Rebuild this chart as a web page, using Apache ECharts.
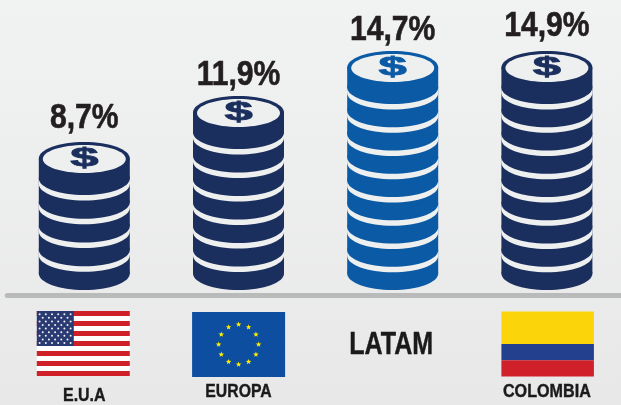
<!DOCTYPE html>
<html><head><meta charset="utf-8">
<style>html,body{margin:0;padding:0;width:621px;height:405px;overflow:hidden}#c{width:621px;height:405px}</style>
<script src="https://cdn.jsdelivr.net/npm/echarts@6/dist/echarts.min.js"></script>
</head><body><div id="c"></div>
<script>
// ---- data ----
const categories = ['E.U.A', 'EUROPA', 'LATAM', 'COLOMBIA'];
const percentLabels = ['8,7%', '11,9%', '14,7%', '14,9%'];
const percentValues = [8.7, 11.9, 14.7, 14.9];
const coinCounts = [5, 7, 9, 9];
// drawn height of each stack, in units of one coin thickness
const stackHeights = [6.24, 8.19, 10.08, 10.08];

// ---- styling ----
const NAVY = '#1b2f5e', BLUE = '#0b5aa5', BG = '#eeefef';
const coinColors = [NAVY, NAVY, BLUE, NAVY];
const labelGaps = [6, 3, 3, 7];
const catBottoms = [405, 401, 361, 401];
const catSizes = [19, 19, 31, 19];
const catScales = [0.84, 0.83, 0.81, 0.85];
const catShifts = [0, 0, -1.5, 0];
const FONT = '"Liberation Sans",Arial,sans-serif';
const RX = 45.5, RY = 16.5, TOP_SIDE = 36.5, GAP = 5.5;

function renderStack(params, api) {
  const i = api.value(0), h = api.value(1), n = api.value(2);
  const base = api.coord([i, 0]), top = api.coord([i, h]);
  const cx = base[0], y0 = base[1], yT = top[1];
  const color = coinColors[i];
  const yc = yT + RY;                       // centre of top face
  const pitch = (y0 - yc - TOP_SIDE) / (n - 1);
  const kids = [];
  const coinBody = (bottom, sideTop, fill) => [
    { type: 'ellipse', shape: { cx, cy: bottom - RY, rx: RX, ry: RY }, style: { fill } },
    { type: 'rect', shape: { x: cx - RX, y: sideTop, width: RX * 2, height: bottom - RY - sideTop }, style: { fill } }
  ];
  for (let k = 0; k < n; k++) {
    const bottom = y0 - k * pitch;
    const sideTop = k === n - 1 ? yc : bottom - pitch - RY;
    if (k > 0) kids.push(...coinBody(bottom + GAP, bottom - RY, BG));
    kids.push(...coinBody(bottom, sideTop, color));
  }
  kids.push({ type: 'ellipse', shape: { cx, cy: yc, rx: RX, ry: RY }, style: { fill: color } });
  kids.push({ type: 'ellipse', shape: { cx, cy: yc + 0.5, rx: 41.5, ry: 14 }, style: { fill: BG } });
  kids.push({ type: 'text', x: cx, y: yc + 0.5, scaleX: 1.95,
    style: { text: '$', fill: color, stroke: color, lineWidth: 0.8, font: 'bold 26px ' + FONT, align: 'center', verticalAlign: 'middle' } });
  kids.push({ type: 'text', x: cx, y: yT - labelGaps[i], scaleX: 0.86,
    style: { text: percentLabels[i], fill: '#231f20', stroke: '#231f20', lineWidth: 0.6, font: 'bold 35px ' + FONT, align: 'center', verticalAlign: 'bottom' } });
  return { type: 'group', children: kids };
}

function star(cx, cy, r, fill) {
  const pts = [];
  for (let k = 0; k < 10; k++) {
    const a = -Math.PI / 2 + k * Math.PI / 5, q = k % 2 ? r * 0.42 : r;
    pts.push([cx + q * Math.cos(a), cy + q * Math.sin(a)]);
  }
  return { type: 'polygon', shape: { points: pts }, style: { fill } };
}

function renderFlag(params, api) {
  const i = api.value(0);
  const cx = api.coord([i, 0])[0];
  const W = 93, H = 65, kids = [];
  const r = (x, y, w, h, fill) => ({ type: 'rect', shape: { x, y, width: w, height: h }, style: { fill } });
  if (i === 0) {
    const x = cx - 47.5, y = 311;
    kids.push(r(x, y, W, H, '#ffffff'));
    for (let s = 0; s < 13; s += 2) kids.push(r(x, y + s * H / 13, W, H / 13, '#cf2027'));
    kids.push(r(x, y, 37, 35, '#2a3a72'));
    for (let row = 0; row < 9; row++) {
      const m = row % 2 ? 5 : 6;
      for (let c = 0; c < m; c++) {
        kids.push({ type: 'circle', shape: { cx: x + 2.8 + (row % 2 ? 3.1 : 0) + c * 6.2, cy: y + 3.2 + row * 3.6, r: 1 }, style: { fill: '#f4f4f6' } });
      }
    }
  } else if (i === 1) {
    const x = cx - 46.4, y = 312;
    kids.push(r(x, y, W, H, '#0d4ea0'));
    for (let k = 0; k < 12; k++) {
      const a = k * Math.PI / 6;
      kids.push(star(cx + 0.1 + 20 * Math.sin(a), 344.5 - 20 * Math.cos(a), 2.9, '#ffed00'));
    }
  } else if (i === 3) {
    const x = cx - 45.5, y = 311.5;
    kids.push(r(x, y, W - 0.5, 32.5, '#fbd50a'));
    kids.push(r(x, y + 32.5, W - 0.5, 16.3, '#23408e'));
    kids.push(r(x, y + 48.8, W - 0.5, 16.2, '#d0202a'));
  }
  kids.push({ type: 'text', x: cx + catShifts[i], y: catBottoms[i], scaleX: catScales[i],
    style: { text: categories[i], fill: '#1a1a1a', stroke: '#1a1a1a', lineWidth: 0.4, font: 'bold ' + catSizes[i] + 'px ' + FONT, align: 'center', verticalAlign: 'bottom' } });
  return { type: 'group', children: kids };
}

const chart = echarts.init(document.getElementById('c'), null, { renderer: 'canvas' });
chart.setOption({
  animation: false,
  backgroundColor: { type: 'linear', x: 0, y: 0, x2: 0, y2: 1, colorStops: [{ offset: 0, color: '#f1f2f2' }, { offset: 1, color: '#e8e8e9' }] },
  grid: { left: 7.2, width: 616.8, top: 0, height: 290, outerBoundsMode: 'none' },
  xAxis: {
    type: 'category', data: categories, offset: 5.5,
    axisTick: { show: false },
    axisLine: { show: true, onZero: false, lineStyle: { color: '#b9baba', width: 5, cap: 'round' } },
    axisLabel: { show: false }
  },
  yAxis: { type: 'value', min: 0, max: 290 / 23.7, show: false, splitLine: { show: false } },
  series: [
    { type: 'custom', name: 'stacks', coordinateSystem: 'cartesian2d', clip: false,
      renderItem: renderStack, encode: { x: 0, y: 1 },
      data: categories.map((c, i) => [i, stackHeights[i], coinCounts[i], percentValues[i]]) },
    { type: 'custom', name: 'flags', coordinateSystem: 'cartesian2d', clip: false,
      renderItem: renderFlag, encode: { x: 0, y: 1 },
      data: categories.map((c, i) => [i, 0]) }
  ]
});
</script></body></html>
